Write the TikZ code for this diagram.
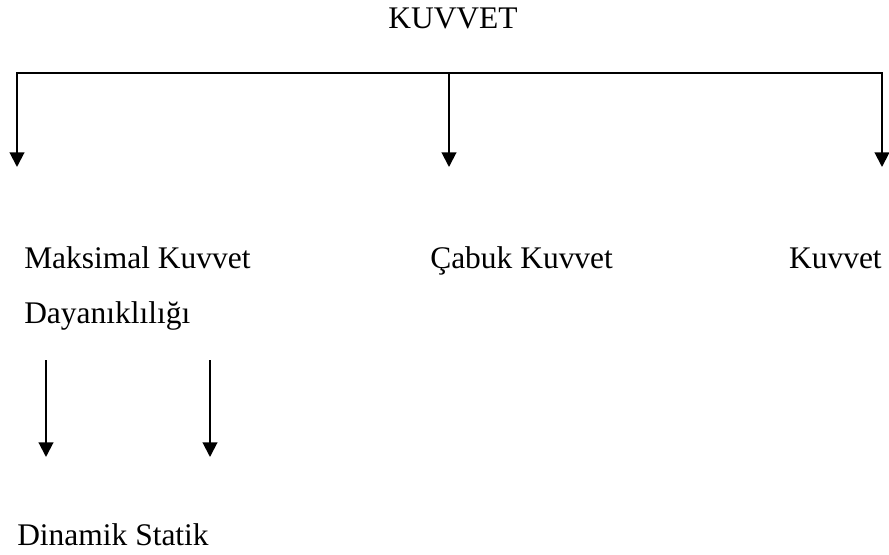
\documentclass[tikz,border=0pt]{standalone}
\usepackage{fontspec}
\setmainfont{Liberation Serif}
\usetikzlibrary{arrows.meta}
\tikzset{
    lbl/.style={anchor=base west, inner sep=0pt, font=\fontsize{23.6}{28}\selectfont},
    arr/.style={-{Triangle[length=11pt,width=11pt]}, line width=1.5pt},
}
\begin{document}
\begin{tikzpicture}[x=0.75pt, y=-0.75pt]
    \useasboundingbox (0,0) rectangle (889,554) ;
    \node [lbl, anchor=base] (kuvvet) at (453,28) {KUVVET} ;
    % bus under the title
    \coordinate (busl) at (17,72.5) ;
    \coordinate (busm) at (449,72.5) ;
    \coordinate (busr) at (882,72.5) ;
    \coordinate (tipl) at (17,167) ;
    \coordinate (tipm) at (449,167) ;
    \coordinate (tipr) at (882,167) ;
    \draw [line width=1.5pt, line cap=rect] (busl) -- (busr) ;
    \draw [arr] (busl) -- (tipl) ;
    \draw [arr] (busm) -- (tipm) ;
    \draw [arr] (busr) -- (tipr) ;
    \node [lbl] (maks) at (24,268) {Maksimal Kuvvet} ;
    \node [lbl] (dayan) at (24,323) {Dayanıklılığı} ;
    \node [lbl] (cabuk) at (430,268) {Çabuk Kuvvet} ;
    \node [lbl, anchor=base east] (kuv) at (882,268) {Kuvvet} ;
    % two arrows under Dayaniklilig
    \coordinate (dintop) at (46,360) ;
    \coordinate (dintip) at (46,457) ;
    \coordinate (stttop) at (210,360) ;
    \coordinate (stttip) at (210,457) ;
    \draw [arr] (dintop) -- (dintip) ;
    \draw [arr] (stttop) -- (stttip) ;
    \node [lbl] (dinstat) at (17,545) {Dinamik Statik} ;
\end{tikzpicture}
\end{document}
